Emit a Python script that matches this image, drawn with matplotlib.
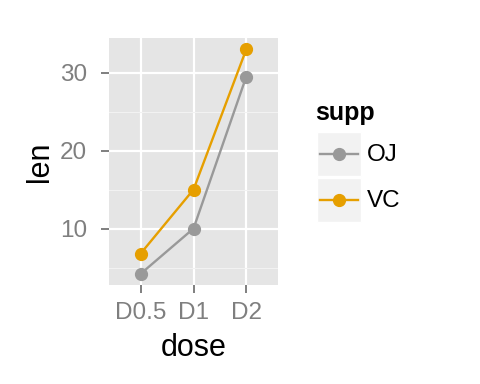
import matplotlib.pyplot as plt
from matplotlib.patches import Rectangle

# data
doses = ['D0.5', 'D1', 'D2']
supp = ['OJ', 'VC']
len_oj = [4.2, 10, 29.5]
len_vc = [6.8, 15, 33]
colors = {'OJ': '#999999', 'VC': '#E69F00'}

plt.rcParams['font.family'] = ['Liberation Sans', 'DejaVu Sans']

fig = plt.figure(figsize=(4.8, 3.84), dpi=100)
ax = fig.add_axes([109 / 480, 1 - 285 / 384, 169 / 480, 247 / 384])
ax.set_facecolor('#E5E5E5')

x = list(range(len(doses)))
for name, vals in zip(supp, [len_oj, len_vc]):
    ax.plot(x, vals, color=colors[name], lw=1.7, marker='o', ms=8.5,
            mec=colors[name], zorder=3)

lo = min(len_oj + len_vc)
hi = max(len_oj + len_vc)
pad = (hi - lo) * 0.05
ax.set_ylim(lo - pad, hi + pad)
ax.set_xlim(-0.6, len(doses) - 1 + 0.6)
ax.set_xticks(x)
ax.set_xticklabels(doses)
ax.set_yticks([10, 20, 30])
ax.set_yticks([5, 15, 25], minor=True)

ax.grid(which='major', color='white', lw=1.6)
ax.grid(which='minor', color='#F2F2F2', lw=0.8)
ax.set_axisbelow(True)
for s in ax.spines.values():
    s.set_visible(False)
ax.tick_params(which='major', length=6, width=1.4, color='#7F7F7F',
               labelcolor='#7F7F7F', labelsize=17.5)
ax.tick_params(axis='x', pad=6.5)
ax.tick_params(axis='y', pad=10)
ax.tick_params(which='minor', length=0)

ax.set_xlabel('dose', fontsize=22, labelpad=6)
ax.set_ylabel('len', fontsize=22, labelpad=3)

# legend
lax = fig.add_axes([0, 0, 1, 1])
lax.set_xlim(0, 480)
lax.set_ylim(384, 0)
lax.axis('off')
lax.text(315, 113, 'supp', fontsize=18, fontweight='bold', va='center', ha='left')
for i, name in enumerate(supp):
    y0 = 132 + i * 46
    lax.add_patch(Rectangle((317, y0), 44, 44, facecolor='#F2F2F2',
                            edgecolor='white', lw=1))
    lax.plot([320, 358], [y0 + 22] * 2, color=colors[name], lw=1.7)
    lax.plot([339], [y0 + 22], 'o', color=colors[name], ms=8.5)
    lax.text(367, y0 + 23, name, fontsize=17.5, va='center', ha='left')

fig.savefig('out.png', dpi=100)
